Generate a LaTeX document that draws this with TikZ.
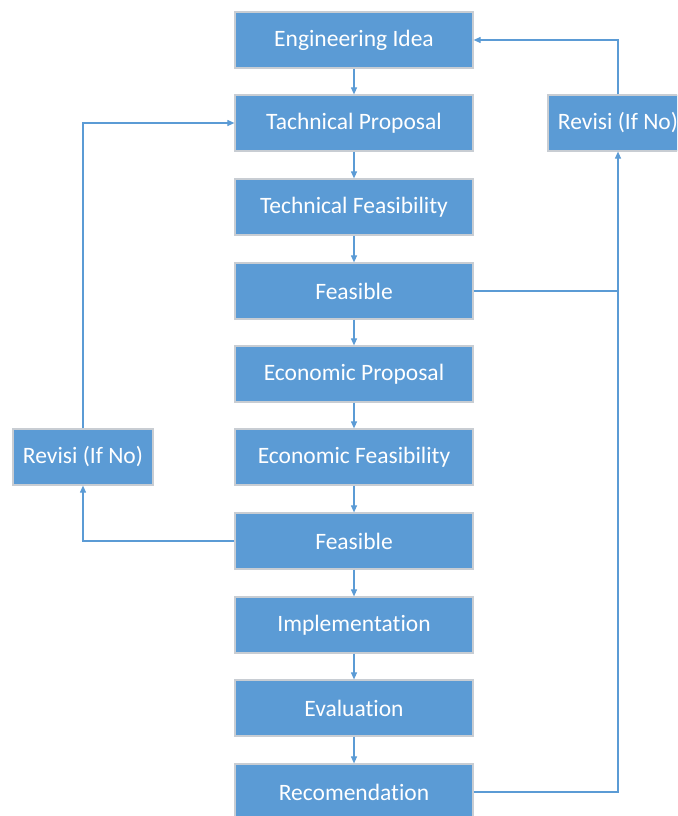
\documentclass[tikz,border=0pt]{standalone}
\usepackage{fontspec}
\setmainfont[Ligatures=NoCommon]{Carlito}
\usetikzlibrary{arrows.meta}
\definecolor{boxblue}{HTML}{5B9BD5}
\definecolor{boxedge}{HTML}{C8CDD3}
\begin{document}
\begin{tikzpicture}[x=1pt,y=-1pt,
  stepbox/.style={rectangle, fill=boxblue, draw=boxedge, line width=1.2pt,
    minimum width=238pt, minimum height=56pt, inner sep=0pt,
    text=white, font=\fontsize{23.5}{26}\selectfont},
  revbox/.style={stepbox, minimum width=140pt},
  link/.style={draw=boxblue, line width=1.1pt,
    -{Triangle[length=7pt,width=6pt]}}]
\useasboundingbox (0,0) rectangle (677,816);
\clip (0,0) rectangle (677,816);

% main column of steps
\node[stepbox] (idea)  at (354,40)  {Engineering Idea};
\node[stepbox] (tprop) at (354,123) {Tachnical Proposal};
\node[stepbox] (tfeas) at (354,207) {Technical Feasibility};
\node[stepbox] (feas1) at (354,291) {Feasible};
\node[stepbox] (eprop) at (354,374) {Economic Proposal};
\node[stepbox] (efeas) at (354,457) {Economic Feasibility};
\node[stepbox] (feas2) at (354,541) {Feasible};
\node[stepbox] (impl)  at (354,625) {Implementation};
\node[stepbox] (eval)  at (354,708) {Evaluation};
\node[stepbox] (reco)  at (354,792) {Recomendation};

% revision boxes
\node[revbox] (revR) at (618,123) {Revisi (If No)};
\node[revbox] (revL) at (83,457)  {Revisi (If No)};

% downward flow
\foreach \a/\b in {idea/tprop, tprop/tfeas, tfeas/feas1, feas1/eprop,
                   eprop/efeas, efeas/feas2, feas2/impl, impl/eval, eval/reco}
  \draw[link] (\a) -- (\b);

% right-hand revision loop
\coordinate (jR) at (revR.center |- feas1.east);
\draw[draw=boxblue, line width=1.1pt] (feas1.east) -- (jR);
\draw[link] (reco.east) -| (revR.south);
\draw[link] (revR.north) |- (idea.east);

% left-hand revision loop
\draw[link] (feas2.west) -| (revL.south);
\draw[link] (revL.north) |- (tprop.west);
\end{tikzpicture}
\end{document}
